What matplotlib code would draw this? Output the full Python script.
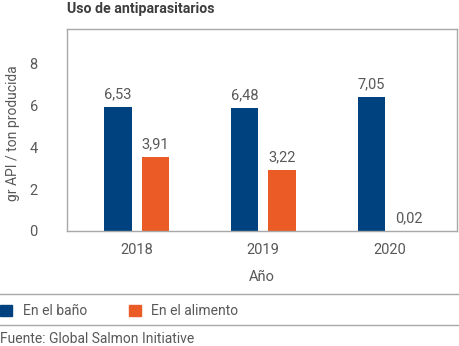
import matplotlib
matplotlib.use("Agg")
import matplotlib.pyplot as plt
from matplotlib.patches import Patch
from matplotlib.lines import Line2D
import numpy as np

years = ["2018", "2019", "2020"]
bano = [6.53, 6.48, 7.05]
alimento = [3.91, 3.22, 0.02]
bano_labels = ["6,53", "6,48", "7,05"]
alimento_labels = ["3,91", "3,22", "0,02"]
ytick_values = [0, 2, 4, 6, 8]
series_names = ["En el baño", "En el alimento"]

plt.rcParams["font.family"] = ["Roboto", "DejaVu Sans"]

BLUE = "#00427f"
ORANGE = "#eb5b25"
TXT = "#585858"
GRID = "#a8a8a8"
FS = 10

W, H = 460, 346
fig = plt.figure(figsize=(W / 100, H / 100), dpi=100)
ax = fig.add_axes([67 / W, 1 - 231 / H, (457 - 67) / W, (231 - 29) / H])

x = np.arange(len(years))
bw = 0.216
off = 0.147
b1 = ax.bar(x - off, bano, bw, color=BLUE)
b2 = ax.bar(x + off, alimento, bw, color=ORANGE)

for bars, labs in ((b1, bano_labels), (b2, alimento_labels)):
    for rect, lab in zip(bars, labs):
        ax.annotate(lab, (rect.get_x() + rect.get_width() / 2, rect.get_height()),
                    xytext=(0, 4), textcoords="offset points", ha="center", va="bottom",
                    fontsize=FS + 0.5, color=TXT)

ax.set_xlim(-0.55, 2.53)
ax.set_ylim(0, 10.63)
# tick labels sit where the reference places them (its axis scale is ~1.1x the bar scale)
tick_scale = 1.1
ax.set_yticks([v * tick_scale for v in ytick_values])
ax.set_yticklabels([str(v) for v in ytick_values])
ax.set_xticks(x)
ax.set_xticklabels(years)
ax.tick_params(axis="both", length=0, labelsize=FS + 0.5, labelcolor=TXT)
ax.tick_params(axis="y", pad=21)
ax.tick_params(axis="x", pad=9)
for s in ax.spines.values():
    s.set_color(GRID)
    s.set_linewidth(1.0)

fig.text(13 / W, 1 - 133 / H, "gr API / ton producida", fontsize=FS, color=TXT,
         rotation=90, ha="center", va="center")
ax.set_xlabel("Año", fontsize=FS + 0.5, color=TXT, labelpad=9)

fig.text(67 / W, 1 - 9 / H, "Uso de antiparasitarios", fontsize=10.2, fontweight="bold",
         color="#3d3d3d", ha="left", va="center")

fig.add_artist(Line2D([0, 1], [1 - 293.5 / H] * 2, color=GRID, lw=1, transform=fig.transFigure))
fig.add_artist(Line2D([0, 1], [1 - 325 / H] * 2, color=GRID, lw=1, transform=fig.transFigure))

handles = [Patch(color=BLUE), Patch(color=ORANGE)]
fig.legend(handles, series_names, loc="center left", bbox_to_anchor=(0, 1 - 311 / H),
           ncol=2, frameon=False, fontsize=FS, handlelength=0.88, handleheight=0.88,
           handletextpad=0.75, columnspacing=3.0, borderpad=0, borderaxespad=0,
           labelcolor=TXT)

fig.text(0, 1 - 339 / H, "Fuente: Global Salmon Initiative", fontsize=FS, color=TXT,
         ha="left", va="center")

fig.savefig("out.png", dpi=100)
